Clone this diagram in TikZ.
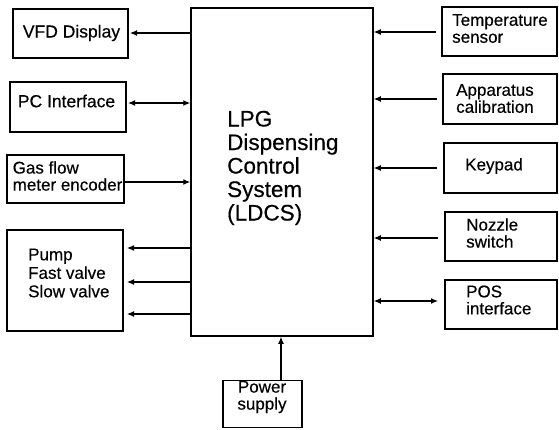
\documentclass[tikz,border=0pt]{standalone}
\usepackage{fontspec}
\setmainfont{Liberation Sans}[FakeBold=0.4]
\usetikzlibrary{arrows.meta}
\begin{document}
\begin{tikzpicture}[x=1pt,y=-1pt,
  box/.style={draw, line width=1.2pt, inner sep=0pt},
  txt/.style={font=\fontsize{17}{17}\selectfont, align=left, inner sep=0pt},
  bigtxt/.style={font=\fontsize{22.5}{23.5}\selectfont, align=left, inner sep=0pt},
  arr/.style={line width=1.2pt, -{Latex[length=7pt,width=6pt]}},
  darr/.style={line width=1.2pt, {Latex[length=7pt,width=6pt]}-{Latex[length=7pt,width=6pt]}}]
\useasboundingbox (0,0) rectangle (559,430);
% boxes
\node[box, minimum width=115pt, minimum height=49pt] (vfd) at (70.5,33.5) {};
\node[box, minimum width=116pt, minimum height=50pt] (pc) at (68,107) {};
\node[box, minimum width=117pt, minimum height=48pt] (gas) at (65.5,179) {};
\node[box, minimum width=116pt, minimum height=101pt] (pump) at (65,280.5) {};
\node[box, line width=1.5pt, minimum width=182pt, minimum height=328pt] (main) at (282,172) {};
\node[box, minimum width=115pt, minimum height=49pt] (temp) at (499.5,31.5) {};
\node[box, minimum width=114pt, minimum height=50pt] (app) at (500,99) {};
\node[box, minimum width=113pt, minimum height=50pt] (key) at (500.5,168) {};
\node[box, minimum width=112pt, minimum height=49pt] (noz) at (501,236.5) {};
\node[box, minimum width=112pt, minimum height=49pt] (pos) at (501,304.5) {};
\node[box, minimum width=79pt, minimum height=47pt] (pow) at (262.5,404) {};
% texts
\node[txt, font=\fontsize{17.5}{17}\selectfont] (tvfd) at (71.5,33) {VFD Display};
\node[txt, font=\fontsize{17.5}{17}\selectfont] (tpc) at (66.5,101) {PC Interface};
\node[txt, anchor=west] (tgas) at (12.5,176) {Gas flow\\meter encoder};
\node[txt, anchor=west, font=\fontsize{17}{18.5}\selectfont] (tpump) at (28,273) {Pump\\Fast valve\\Slow valve};
\node[bigtxt, anchor=west] (tmain) at (227,168) {LPG\\Dispensing\\Control\\System\\(LDCS)};
\node[txt, anchor=west] (ttemp) at (452,28.5) {Temperature\\sensor};
\node[txt, anchor=west] (tapp) at (456,98.5) {Apparatus\\calibration};
\node[txt, anchor=west] (tkey) at (465,166) {Keypad};
\node[txt, anchor=west] (tnoz) at (466,233) {Nozzle\\switch};
\node[txt, anchor=west] (tpos) at (466,300) {POS\\interface};
\node[txt, align=center] (tpow) at (262,397) {Power\\supply};
% coordinates for connectors
\coordinate (p0) at (130,33);
\coordinate (p1) at (127,248);
\coordinate (p2) at (127,282);
\coordinate (p3) at (127,314);
\coordinate (c1) at (436,32);
\coordinate (c2) at (437,99);
\coordinate (c3) at (437,168);
\coordinate (c4) at (438,238);
\coordinate (c5) at (438,301);
\coordinate (c6) at (128,103);
\coordinate (c7) at (124,182);
\coordinate (c8) at (281,380);
% connectors
\draw[arr] (main.west |- p0) -- (p0);
\draw[darr] (c6) -- (main.west |- c6);
\draw[arr] (c7) -- (main.west |- c7);
\draw[arr] (main.west |- p1) -- (p1);
\draw[arr] (main.west |- p2) -- (p2);
\draw[arr] (main.west |- p3) -- (p3);
\draw[arr] (c1) -- (main.east |- c1);
\draw[arr] (c2) -- (main.east |- c2);
\draw[arr] (c3) -- (main.east |- c3);
\draw[arr] (c4) -- (main.east |- c4);
\draw[darr] (main.east |- c5) -- (c5);
\draw[arr] (c8) -- (main.south -| c8);
\end{tikzpicture}
\end{document}
